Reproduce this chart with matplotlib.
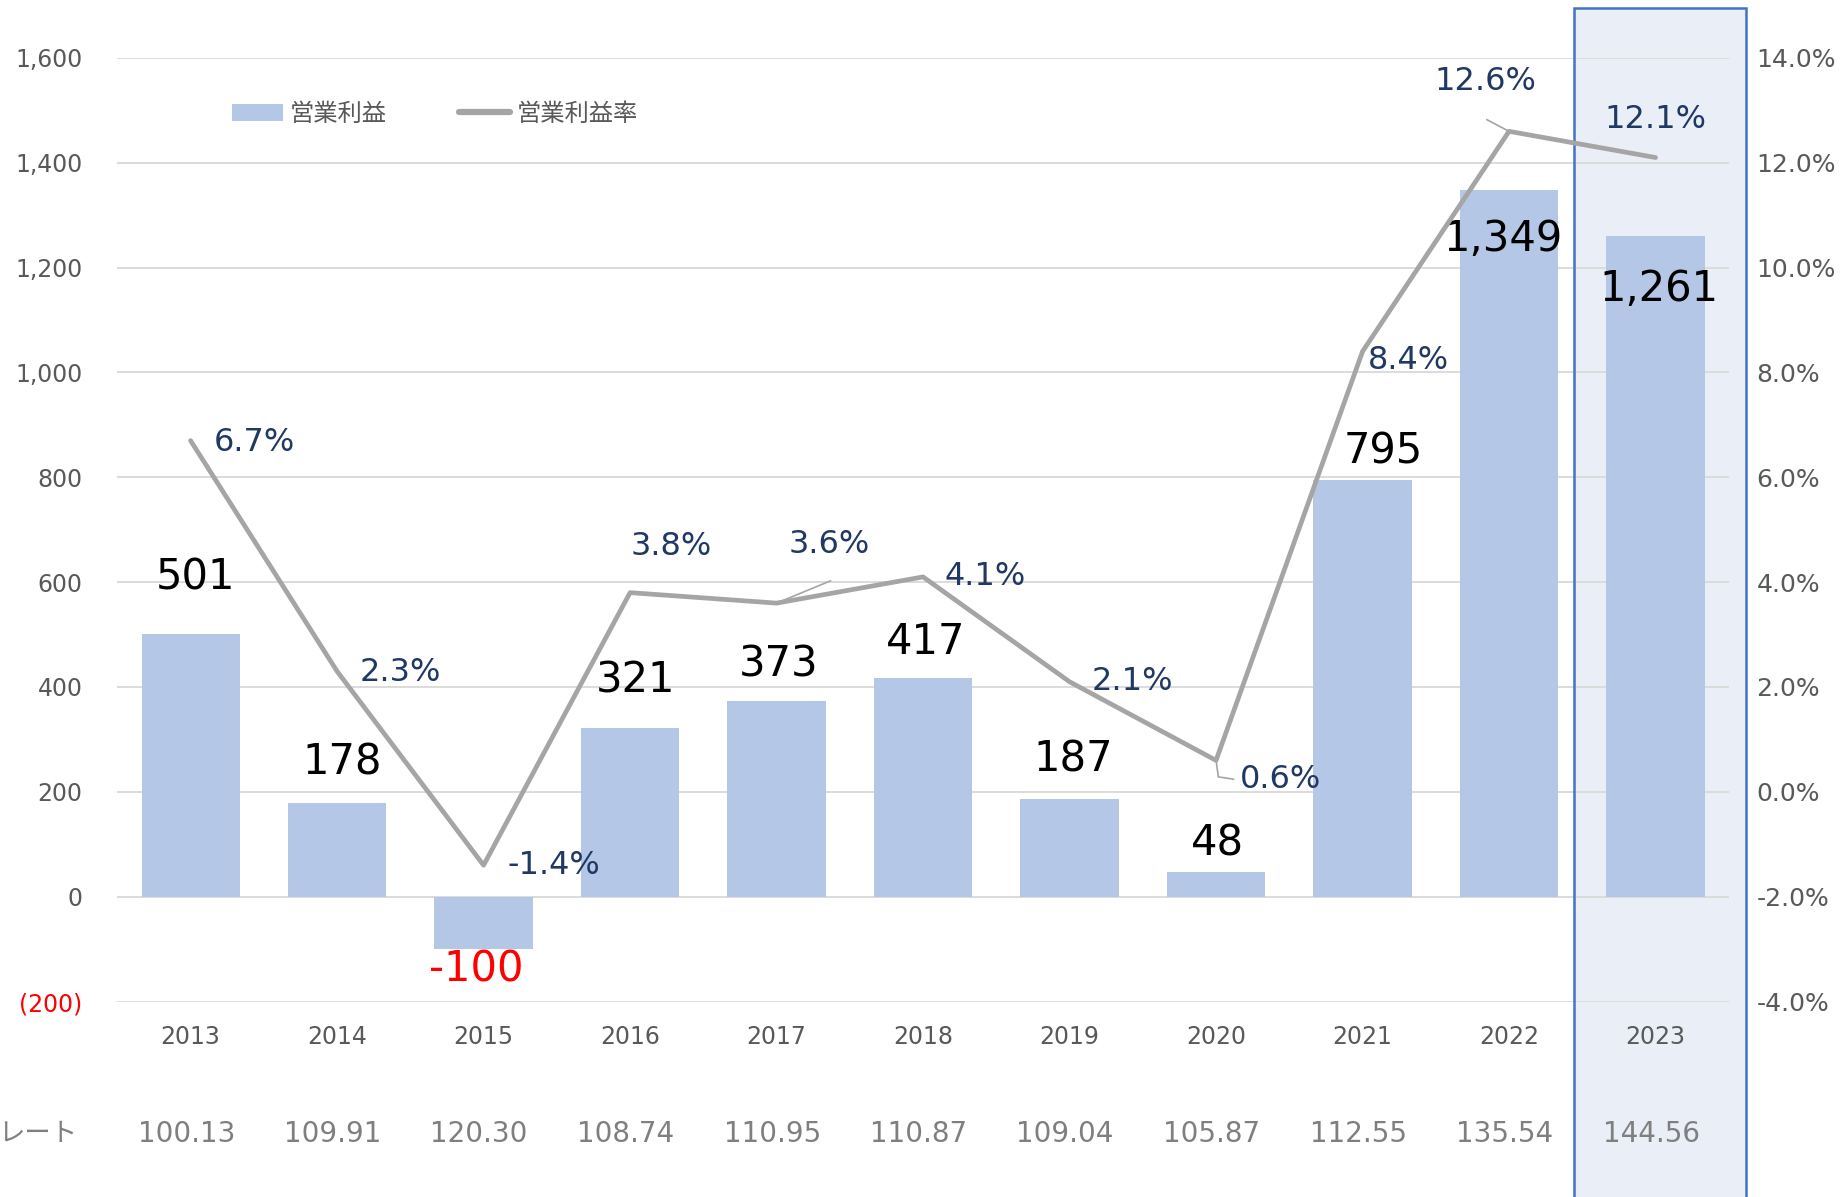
import numpy as np
import matplotlib
matplotlib.use('Agg')
import matplotlib.pyplot as plt
from matplotlib.patches import Rectangle, Patch
from matplotlib.lines import Line2D
from matplotlib.transforms import blended_transform_factory, offset_copy

plt.rcParams['font.family'] = ['DejaVu Sans', 'Noto Sans CJK JP']

years = ['2013', '2014', '2015', '2016', '2017', '2018', '2019', '2020', '2021', '2022', '2023']
op_profit = [501, 178, -100, 321, 373, 417, 187, 48, 795, 1349, 1261]  # 営業利益
op_margin = [6.7, 2.3, -1.4, 3.8, 3.6, 4.1, 2.1, 0.6, 8.4, 12.6, 12.1]  # 営業利益率 (%)
fx_rate = ['100.13', '109.91', '120.30', '108.74', '110.95', '110.87',
           '109.04', '105.87', '112.55', '135.54', '144.56']
left_ticks = [-200, 0, 200, 400, 600, 800, 1000, 1200, 1400, 1600]
right_ticks = [-4, -2, 0, 2, 4, 6, 8, 10, 12, 14]

# label placement (offsets, in points)
S = 0.847
bar_lbl_off = [(4, 48), (4, 35), (-6, -17), (5, 41), (2, 31), (2, 31),
               (3, 33), (1, 24), (18, 24), (-5, -42), (3, -45)]
pct_lbl_off = [(54, -2), (54, -1), (60, 0), (35, 39), (45, 50), (53, 0),
               (53, 0), (55, -16), (39, -8), (-20, 42), (0, 32)]

BAR_C = '#B4C7E7'
LINE_C = '#A5A5A5'
NAVY = '#1F3864'
GREY_TXT = '#595959'

fig = plt.figure(figsize=(18.45, 11.97), dpi=100)
ax = fig.add_axes([0.0636, 0.1633, 0.8734, 0.7883])
ax2 = ax.twinx()

x = np.arange(len(years))

# highlight box around the latest year
bt = blended_transform_factory(ax.transData, fig.transFigure)
ax.add_patch(Rectangle((9.443, -0.02), 1.174, 1.0133, transform=bt, clip_on=False,
                       facecolor='#E9EEF7', edgecolor='none', zorder=0.1))
ax.add_patch(Rectangle((9.443, -0.02), 1.174, 1.0133, transform=bt, clip_on=False,
                       facecolor='none', edgecolor='#4472C4', lw=1.8, zorder=2))

ax.bar(x, op_profit, width=0.67, color=BAR_C, zorder=1)
ax.set_xlim(-0.5, len(years) - 0.5)
ax.set_ylim(-200, 1600)
ax.set_axisbelow(True)
ax.grid(axis='y', color='#D9D9D9', lw=1.3)
ax.set_yticks(left_ticks)
ax.set_yticklabels(['(200)' if t < 0 else f'{t:,}' for t in left_ticks])
for lbl, t in zip(ax.get_yticklabels(), left_ticks):
    lbl.set_color('#FF0000' if t < 0 else GREY_TXT)
ax.tick_params(axis='y', length=0, pad=25, labelsize=17)
ax.set_xticks(x)
ax.set_xticklabels(years)
ax.tick_params(axis='x', length=0, pad=17, labelsize=17, labelcolor=GREY_TXT)
for sp in ax.spines.values():
    sp.set_visible(False)

ax2.plot(x, op_margin, color=LINE_C, lw=3.4, solid_capstyle='round',
         solid_joinstyle='round', zorder=3)
ax2.set_ylim(-4, 14)
ax2.set_yticks(right_ticks)
ax2.set_yticklabels([f'{t:.1f}%' for t in right_ticks])
ax2.tick_params(axis='y', length=0, pad=20, labelsize=18, labelcolor=GREY_TXT)
for sp in ax2.spines.values():
    sp.set_visible(False)

# bar value labels
for i, v in enumerate(op_profit):
    dx, dy = bar_lbl_off[i]
    ax.annotate(f'{v:,}', xy=(i, v), xytext=(dx * S, dy * S), textcoords='offset points',
                ha='center', va='center', fontsize=30,
                color='#FF0000' if v < 0 else 'black', zorder=4)

# margin labels
for i, v in enumerate(op_margin):
    dx, dy = pct_lbl_off[i]
    ax2.annotate(f'{v:.1f}%', xy=(i, v), xytext=(dx * S, dy * S), textcoords='offset points',
                 ha='center', va='center', fontsize=23, color=NAVY, zorder=5)

# leader lines
lead = dict(arrowstyle='-', color=LINE_C, lw=1.2, shrinkA=0, shrinkB=0)
ax2.annotate('', xy=(4, op_margin[4]), xytext=(46 * S, 19 * S),
             textcoords='offset points', arrowprops=lead)
ax2.annotate('', xy=(9, op_margin[9]), xytext=(-19 * S, 10 * S),
             textcoords='offset points', arrowprops=lead)
ax2.annotate('', xy=(7, op_margin[7]), xytext=(2 * S, -14 * S),
             textcoords='offset points', arrowprops=lead)
ax2.annotate('', xy=(7, op_margin[7]),
             xycoords=offset_copy(ax2.transData, fig=fig, x=2 * S, y=-14 * S, units='points'),
             xytext=(13 * S, -2 * S), textcoords='offset points', arrowprops=lead)

# exchange rate row
for i, r in enumerate(fx_rate):
    ax.text(i - 0.03, 0.0523, r, transform=bt, ha='center', va='center',
            fontsize=20, color='#7F7F7F')
fig.text(0.0421, 0.0523, 'レート', ha='right', va='center', fontsize=19, color='#7F7F7F')

handles = [Patch(facecolor=BAR_C, edgecolor='none'),
           Line2D([0], [0], color=LINE_C, lw=4.5, solid_capstyle='round')]
fig.legend(handles, ['営業利益', '営業利益率'], loc='upper left',
           bbox_to_anchor=(0.1193, 0.925), bbox_transform=fig.transFigure, ncol=2,
           frameon=False, fontsize=17.5, labelcolor=GREY_TXT, borderpad=0,
           handlelength=2.1, handletextpad=0.25, columnspacing=3.0)

fig.savefig('out.png', dpi=100)
